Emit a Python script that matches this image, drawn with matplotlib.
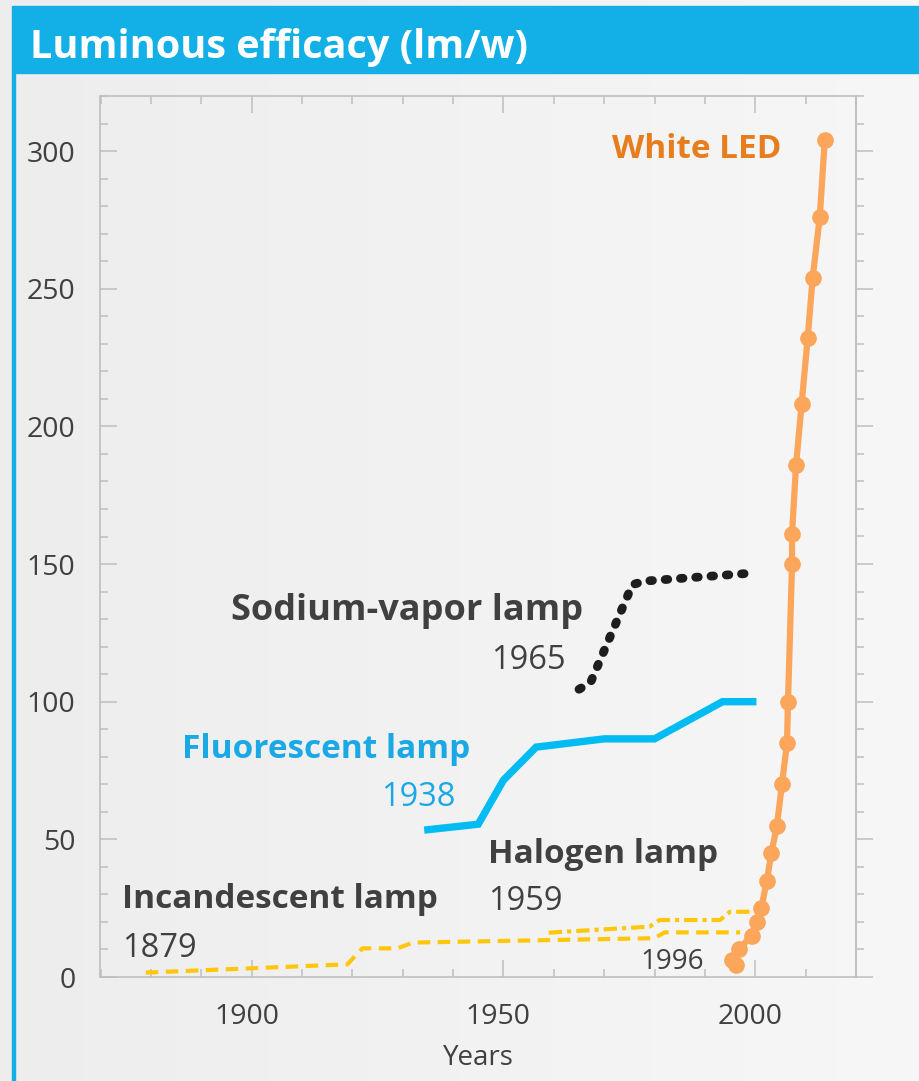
import numpy as np
import matplotlib
matplotlib.use('Agg')
import matplotlib.pyplot as plt
from matplotlib.patches import Rectangle
from matplotlib.ticker import MultipleLocator, FixedLocator
from matplotlib.transforms import ScaledTranslation

plt.rcParams['font.family'] = ['Open Sans', 'DejaVu Sans']

# data
inc_years = [1879, 1919, 1922, 1929, 1932, 1980, 1982, 1997]
inc_vals = [1.6, 4.6, 10.4, 10.4, 12.5, 14.1, 16.2, 16.2]

hal_years = [1959, 1979, 1981, 1993, 1995, 2000]
hal_vals = [16.1, 18.3, 20.7, 20.7, 23.7, 23.7]

flu_years = [1935, 1945, 1950, 1956.5, 1970, 1980, 1993.5, 1999.5]
flu_vals = [53.5, 55.5, 71.5, 83.5, 86.5, 86.5, 100, 100]

sod_years = [1965, 1967.3, 1975.6, 1978, 2000]
sod_vals = [104.5, 107, 142.5, 143.8, 146.8]

led_years = [1995.3, 1996.1, 1996.7, 1999.3, 2000.3, 2001.2, 2002.3, 2003.2, 2004.3,
             2005.3, 2006.3, 2006.5, 2007.3, 2007.3, 2008.1, 2009.2, 2010.4,
             2011.4, 2012.8, 2013.8]
led_vals = [6, 4.5, 10, 15, 20, 25, 35, 45, 55, 70, 85, 100, 150, 161, 186, 208,
            232, 254, 276, 304]

DARK = '#404040'
BLUE = '#00bcf2'
YEL = '#ffc60a'
ORANGE = '#fba65a'

fig = plt.figure(figsize=(9.2, 10.81), dpi=100)

# soft background gradient
bg = fig.add_axes([0, 0, 1, 1], zorder=-5)
grad = np.linspace(0.93, 0.968, 256).reshape(1, -1)
bg.imshow(np.dstack([grad, grad, grad]), aspect='auto', extent=(0, 1, 0, 1))
bg.axis('off')

W, H = 920, 1081
fig.patches.append(Rectangle((12 / W, 1 - 73 / H), 908 / W, 67 / H,
                             transform=fig.transFigure, color='#12b0e6', zorder=1))
fig.patches.append(Rectangle((12 / W, 0), 3 / W, 1 - 73 / H,
                             transform=fig.transFigure, color='#12b0e6', zorder=1))
fig.text(30 / W, 1 - 58 / H, 'Luminous efficacy (lm/w)', color='white',
         fontsize=28.5, fontweight='bold', va='baseline', ha='left')

ax = fig.add_axes([100.5 / W, 1 - 977 / H, 755.5 / W, 881 / H])
ax.set_facecolor('none')

ax.plot(inc_years, inc_vals, color=YEL, lw=3, ls=(0, (3, 1.8)))
ax.plot(hal_years, hal_vals, color=YEL, lw=3, ls=(0, (3.2, 1.2, 1, 1.2)))
ax.plot(flu_years, flu_vals, color=BLUE, lw=5.3, solid_joinstyle='miter')
ax.plot(sod_years, sod_vals, color='#1e1e1e', lw=6.3, ls=(0, (0.3, 1.45)),
        dash_capstyle='round')
ax.plot(led_years, led_vals, color=ORANGE, lw=4.5, marker='o', ms=11,
        solid_capstyle='round', zorder=5)

# annotations
ax.text(1971.5, 297.5, 'White LED', color='#e87d1e', fontsize=24, fontweight='bold')
ax.text(1896, 129.7, 'Sodium-vapor lamp', color=DARK, fontsize=26, fontweight='bold')
ax.text(1947.6, 111.9, '1965', color=DARK, fontsize=23.5)
ax.text(1886.1, 79.5, 'Fluorescent lamp', color='#1aa9e5', fontsize=24, fontweight='bold')
ax.text(1925.8, 62.1, '1938', color='#1aa9e5', fontsize=23.5)
ax.text(1947, 41.4, 'Halogen lamp', color=DARK, fontsize=24, fontweight='bold')
ax.text(1947, 24.3, '1959', color=DARK, fontsize=23.5)
ax.text(1874.2, 25.1, 'Incandescent lamp', color=DARK, fontsize=24, fontweight='bold')
ax.text(1874.2, 7.3, '1879', color=DARK, fontsize=23.5)
ax.text(1977.2, 2.9, '1996', color=DARK, fontsize=20)

ax.set_xlim(1870, 2020)
ax.set_ylim(0, 320)
ax.xaxis.set_major_locator(FixedLocator([1900, 1950, 2000]))
ax.xaxis.set_minor_locator(MultipleLocator(10))
ax.yaxis.set_major_locator(MultipleLocator(50))
ax.yaxis.set_minor_locator(MultipleLocator(10))

GRAY = '#bfbfbf'
for s in ax.spines.values():
    s.set_color(GRAY)
    s.set_linewidth(1.2)
ax.tick_params(which='both', direction='in', color=GRAY, width=1.1,
               labelcolor=DARK, labelsize=20.5, top=True)
ax.tick_params(which='major', length=12)
ax.tick_params(which='minor', length=6)
ax.tick_params(axis='y', pad=18)
ax.tick_params(axis='x', pad=19)

off = ScaledTranslation(-5 / 100, 0, fig.dpi_scale_trans)
for lab in ax.get_xticklabels():
    lab.set_transform(lab.get_transform() + off)

sec = ax.secondary_yaxis('right')
sec.yaxis.set_major_locator(MultipleLocator(50))
sec.yaxis.set_minor_locator(MultipleLocator(10))
sec.spines['right'].set_color(GRAY)
sec.spines['right'].set_linewidth(1.2)
sec.tick_params(which='both', direction='out', color=GRAY, width=1.1, labelright=False)
sec.tick_params(which='major', length=12)
sec.tick_params(which='minor', length=6)

ax.set_xlabel('Years', fontsize=20, color=DARK, labelpad=9)

fig.savefig('out.png', dpi=100)
